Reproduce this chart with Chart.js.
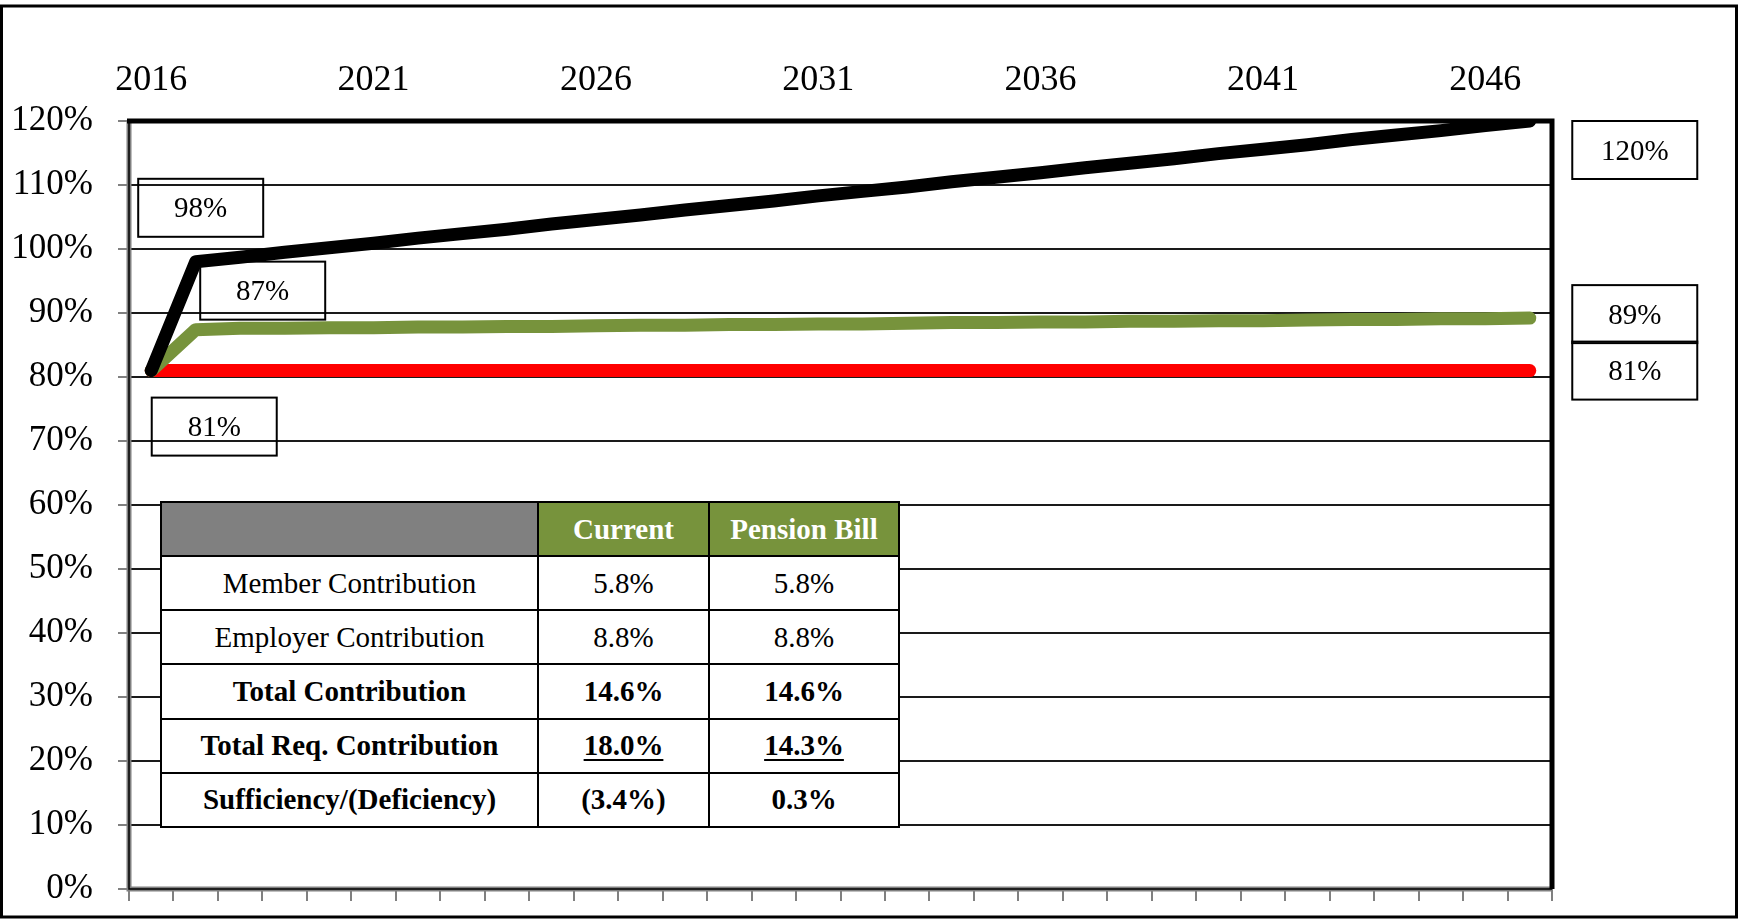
<!DOCTYPE html>
<html lang="en">
<head>
    <meta charset="UTF-8">
    <title>Funded Ratio Projection</title>
    <script src="https://cdn.jsdelivr.net/npm/chart.js@4.4.1/dist/chart.umd.min.js"></script>
    <style>
        * {
            margin: 0;
            padding: 0;
            box-sizing: border-box;
        }

        body {
            background: white;
            width: 1739px;
            height: 922px;
            overflow: hidden;
            font-family: 'Liberation Serif', 'Times New Roman', serif;
        }

        .wrap {
            position: relative;
            width: 1739px;
            height: 922px;
        }

        .contrib {
            position: absolute;
            left: 160px;
            top: 501px;
            width: 738px;
            height: 327px;
            border-collapse: collapse;
            table-layout: fixed;
            background: white;
            font-size: 29px;
            color: #000;
        }

        .contrib td, .contrib th {
            border: 2.5px solid #000;
            text-align: center;
            vertical-align: middle;
            padding: 0;
        }

        .contrib th {
            color: white;
            font-weight: bold;
            background: #77933c;
        }

        .contrib th.blank {
            background: #808080;
        }

        .contrib tr.bold td {
            font-weight: bold;
        }

        .contrib u {
            text-decoration-thickness: 2px;
            text-underline-offset: 4px;
        }
    </style>
</head>
<body>
    <div class="wrap">
        <canvas id="fundedChart" width="1739" height="922"></canvas>

        <table class="contrib">
            <colgroup>
                <col style="width: 377px">
                <col style="width: 171px">
                <col style="width: 190px">
            </colgroup>
            <tr><th class="blank"></th><th>Current</th><th>Pension Bill</th></tr>
            <tr><td>Member Contribution</td><td>5.8%</td><td>5.8%</td></tr>
            <tr><td>Employer Contribution</td><td>8.8%</td><td>8.8%</td></tr>
            <tr class="bold"><td>Total Contribution</td><td>14.6%</td><td>14.6%</td></tr>
            <tr class="bold"><td>Total Req. Contribution</td><td><u>18.0%</u></td><td><u>14.3%</u></td></tr>
            <tr class="bold"><td>Sufficiency/(Deficiency)</td><td>(3.4%)</td><td>0.3%</td></tr>
        </table>
    </div>

    <script>
        // years on the category axis
        const years = ['2016', '2017', '2018', '2019', '2020', '2021', '2022', '2023',
            '2024', '2025', '2026', '2027', '2028', '2029', '2030', '2031',
            '2032', '2033', '2034', '2035', '2036', '2037', '2038', '2039',
            '2040', '2041', '2042', '2043', '2044', '2045', '2046', '2047'];

        // funded ratio (%) per year
        const blackSeries = [81.0, 98.0, 98.7, 99.5, 100.2, 100.9, 101.7, 102.4,
            103.1, 103.9, 104.6, 105.3, 106.1, 106.8, 107.5, 108.3,
            109.0, 109.7, 110.5, 111.2, 111.9, 112.7, 113.4, 114.1,
            114.9, 115.6, 116.3, 117.1, 117.8, 118.5, 119.3, 120.0];

        const greenSeries = [81.0, 87.4, 87.6, 87.6, 87.7, 87.7, 87.8, 87.8,
            87.9, 87.9, 88.0, 88.1, 88.1, 88.2, 88.2, 88.3,
            88.3, 88.4, 88.5, 88.5, 88.6, 88.6, 88.7, 88.7,
            88.8, 88.8, 88.9, 89.0, 89.0, 89.1, 89.1, 89.2];

        const redSeries = [81, 81, 81, 81, 81, 81, 81, 81,
            81, 81, 81, 81, 81, 81, 81, 81,
            81, 81, 81, 81, 81, 81, 81, 81,
            81, 81, 81, 81, 81, 81, 81, 81];

        // year labels shown on top axis
        const shownYears = ['2016', '2021', '2026', '2031', '2036', '2041', '2046'];

        // y axis ticks
        const yTicks = [0, 10, 20, 30, 40, 50, 60, 70, 80, 90, 100, 110, 120];

        const fontFamily = "'Liberation Serif', 'Times New Roman', serif";
        Chart.defaults.font.family = fontFamily;
        Chart.defaults.color = '#000';

        // boxed data labels (dataset, point, offset from point)
        const boxLabels = [
            { ds: 0, idx: 1, dx: 5, dy: -54 },
            { ds: 1, idx: 1, dx: 67, dy: -39 },
            { ds: 2, idx: 0, dx: 63, dy: 56 },
            { ds: 0, idx: -1, dx: 105, dy: 29 },
            { ds: 1, idx: -1, dx: 105, dy: -4 },
            { ds: 2, idx: -1, dx: 105, dy: 0 }
        ];

        const frame = {
            id: 'frame',
            beforeDraw(chart) {
                const ctx = chart.ctx;
                ctx.save();
                ctx.fillStyle = 'white';
                ctx.fillRect(0, 0, chart.width, chart.height);
                ctx.strokeStyle = '#000';
                ctx.lineWidth = 3;
                ctx.strokeRect(1.5, 6, 1735, 911);
                ctx.restore();
            },
            beforeDatasetsDraw(chart) {
                const ctx = chart.ctx;
                const a = chart.chartArea;
                ctx.save();
                // left + bottom axis: gray with black core
                ctx.lineCap = 'butt';
                ctx.strokeStyle = '#808080';
                ctx.lineWidth = 5;
                ctx.beginPath();
                ctx.moveTo(a.left, a.top);
                ctx.lineTo(a.left, a.bottom);
                ctx.lineTo(a.right, a.bottom);
                ctx.stroke();
                ctx.strokeStyle = '#000';
                ctx.lineWidth = 1.5;
                ctx.stroke();
                // top + right border
                ctx.lineWidth = 5;
                ctx.beginPath();
                ctx.moveTo(a.left - 2, a.top);
                ctx.lineTo(a.right, a.top);
                ctx.lineTo(a.right, a.bottom);
                ctx.stroke();
                ctx.restore();
            },
            afterDatasetsDraw(chart) {
                const ctx = chart.ctx;
                ctx.save();
                ctx.font = '29px ' + fontFamily;
                ctx.textAlign = 'center';
                ctx.textBaseline = 'middle';
                ctx.strokeStyle = '#000';
                ctx.fillStyle = '#000';
                ctx.lineWidth = 2;
                boxLabels.forEach(b => {
                    const meta = chart.getDatasetMeta(b.ds);
                    const values = chart.data.datasets[b.ds].data;
                    const i = b.idx < 0 ? values.length + b.idx : b.idx;
                    const pt = meta.data[i];
                    const cx = pt.x + b.dx;
                    const cy = pt.y + b.dy;
                    ctx.strokeRect(cx - 62.5, cy - 29, 125, 58);
                    ctx.fillText(Math.round(values[i]) + '%', cx, cy + 2);
                });
                ctx.restore();
            }
        };

        const fundedChart = new Chart(document.getElementById('fundedChart'), {
            type: 'line',
            data: {
                labels: years,
                datasets: [
                    {
                        label: 'Pension Bill',
                        data: blackSeries,
                        borderColor: '#000000',
                        borderWidth: 13
                    },
                    {
                        label: 'Current Req.',
                        data: greenSeries,
                        borderColor: '#77933c',
                        borderWidth: 13
                    },
                    {
                        label: 'Current',
                        data: redSeries,
                        borderColor: '#ff0000',
                        borderWidth: 13
                    }
                ]
            },
            options: {
                responsive: false,
                animation: false,
                events: [],
                layout: {
                    padding: { left: 0, right: 187, top: 0, bottom: 0 }
                },
                elements: {
                    point: { radius: 0 },
                    line: {
                        tension: 0,
                        borderCapStyle: 'round',
                        borderJoinStyle: 'round'
                    }
                },
                plugins: {
                    legend: { display: false },
                    tooltip: { enabled: false }
                },
                scales: {
                    x: {
                        type: 'category',
                        position: 'top',
                        offset: true,
                        grid: { display: false, drawTicks: false },
                        border: { display: false },
                        ticks: {
                            autoSkip: false,
                            maxRotation: 0,
                            padding: 19,
                            font: { size: 36 },
                            callback: function (val) {
                                const lbl = this.getLabelForValue(val);
                                return shownYears.includes(lbl) ? lbl : '';
                            }
                        },
                        afterFit: s => { s.height = 121; s.paddingLeft = 0; s.paddingRight = 0; }
                    },
                    x2: {
                        type: 'category',
                        position: 'bottom',
                        offset: true,
                        grid: {
                            offset: true,
                            drawOnChartArea: false,
                            tickLength: 12,
                            color: '#808080',
                            lineWidth: 2
                        },
                        border: { display: false },
                        ticks: { display: false },
                        afterFit: s => { s.height = 33; }
                    },
                    y: {
                        min: 0,
                        max: 120,
                        afterBuildTicks: s => { s.ticks = yTicks.map(v => ({ value: v })); },
                        grid: {
                            color: '#1a1a1a',
                            lineWidth: 2,
                            tickLength: 11,
                            tickColor: '#808080'
                        },
                        border: { display: false },
                        ticks: {
                            padding: 25,
                            font: { size: 35 },
                            callback: v => v + '%'
                        },
                        afterFit: s => { s.width = 129; s.paddingTop = 0; s.paddingBottom = 0; }
                    }
                }
            },
            plugins: [frame]
        });
    </script>
</body>
</html>
